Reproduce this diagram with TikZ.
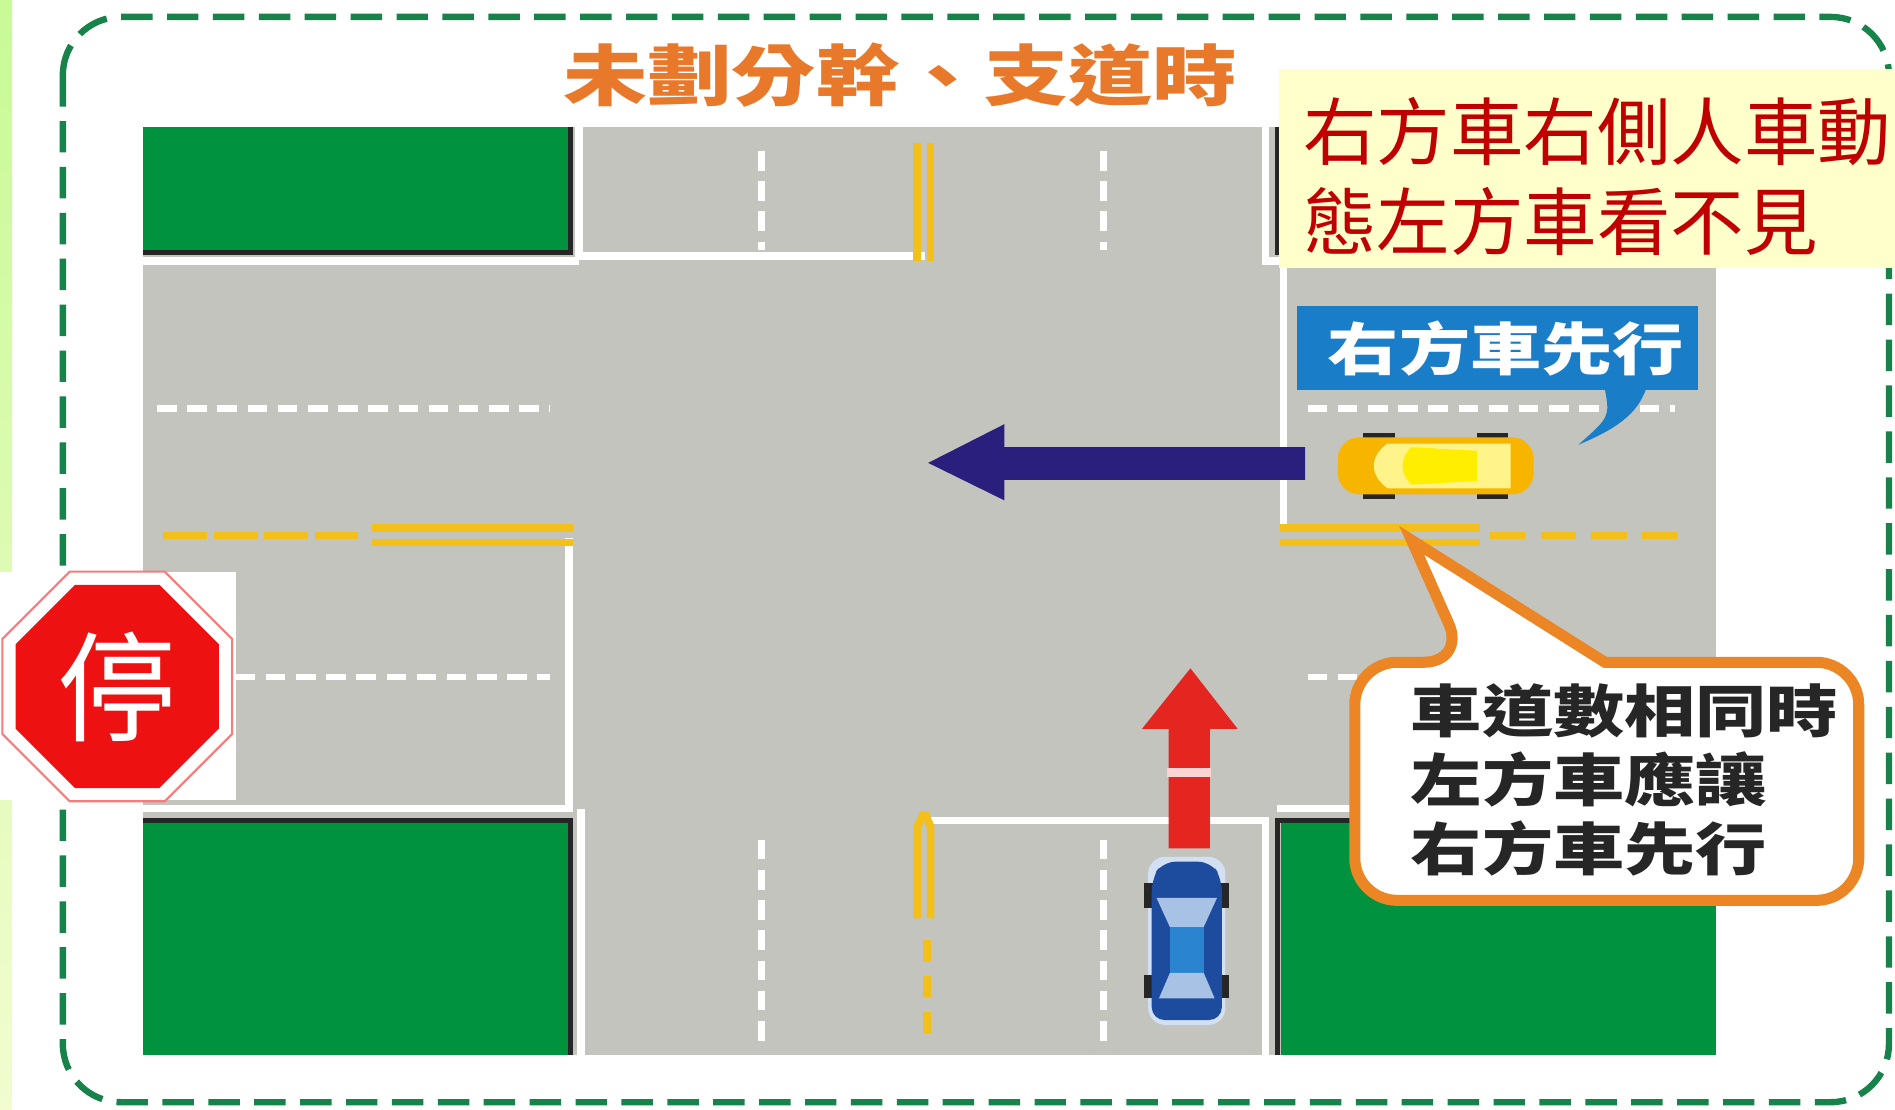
\documentclass[tikz,border=0pt]{standalone}
\usepackage{fontspec}
\newfontfamily\cjk{Noto Sans CJK TC}
\usetikzlibrary{positioning,shapes.geometric}

\definecolor{road}{HTML}{C3C4BE}
\definecolor{lot}{HTML}{00923F}
\definecolor{frame}{HTML}{17834A}
\definecolor{titleorange}{HTML}{E8792B}
\definecolor{notebg}{HTML}{FFFFCC}
\definecolor{notered}{HTML}{C00000}
\definecolor{signblue}{HTML}{1A7DC8}
\definecolor{navy}{HTML}{2A1F7C}
\definecolor{arrowred}{HTML}{E52520}
\definecolor{bubbleorange}{HTML}{EC8524}
\definecolor{lineyellow}{HTML}{F2C018}
\definecolor{stopred}{HTML}{EE1111}
\definecolor{carblue}{HTML}{1D4C9E}
\definecolor{roofblue}{HTML}{2B84CF}
\definecolor{glassblue}{HTML}{A8C2E6}
\definecolor{caryellow}{HTML}{F7B500}
\definecolor{roofyellow}{HTML}{FFEE00}
\definecolor{glassyellow}{HTML}{FFF38A}
\definecolor{stripgreen}{HTML}{C8FA96}
\definecolor{stripyellow}{HTML}{F2FCCF}

\newcommand{\wide}[1]{\scalebox{1.25}[1]{#1}}

\begin{document}
\begin{tikzpicture}[x=0.01cm,y=-0.01cm,
  curb/.style={white,line width=1.8pt},
  edge/.style={black!85,line width=1.3pt},
  lane/.style={white,line width=1.5pt,dash pattern=on 4.6pt off 2.5pt},
  yline/.style={lineyellow,line width=1.8pt},
  octagon/.style={regular polygon,regular polygon sides=8,inner sep=0pt,outer sep=0pt},
  tyre/.style={fill=black!85}]

\useasboundingbox (0,0) rectangle (1568,918);
\fill[white] (0,0) rectangle (1568,918);
\shade[top color=stripgreen,bottom color=stripyellow] (0,0) rectangle (10,918);

\draw[frame,line width=1.5pt,dash pattern=on 7.4pt off 3.4pt,rounded corners=13.7pt] (52,14) rectangle (1563,912);

\fill[road] (118,105) rectangle (1420,873);

\fill[lot] (118,105) rectangle (470,207);
\fill[lot] (118,681) rectangle (470,873);
\fill[lot] (1060,681) rectangle (1420,873);
\fill[lot] (1060,105) rectangle (1420,207);
\draw[edge] (118,209) -- (472,209) -- (472,105);
\draw[edge] (118,679) -- (472,679) -- (472,873);
\draw[edge] (1420,679) -- (1057,679) -- (1057,873);
\draw[edge] (1420,209) -- (1057,209) -- (1057,105);

\draw[curb] (118,216) -- (479,216);
\draw[curb] (479,105) -- (479,212) -- (765,212);
\draw[curb] (1047,105) -- (1047,216) -- (1420,216);
\draw[curb] (1062,216) -- (1062,437);
\draw[curb] (471,445) -- (471,669) -- (118,669);
\draw[curb] (481,669) -- (481,873);
\draw[curb] (765,679) -- (1047,679) -- (1047,873);
\draw[curb] (1057,669) -- (1420,669);

\draw[lane] (630,125) -- (630,207);
\draw[lane] (913,125) -- (913,207);
\draw[lane] (630,695) -- (630,867);
\draw[lane] (913,695) -- (913,867);
\draw[lane] (130,338) -- (455,338);
\draw[lane] (195,560) -- (455,560);
\draw[lane] (1082,338) -- (1386,338);
\draw[lane] (1082,560) -- (1130,560);

\draw[yline] (759,118) -- (759,216);
\draw[yline] (770,118) -- (770,216);
\draw[yline] (759,760) -- (759,684) -- (765,672);
\draw[yline] (770,760) -- (770,684) -- (765,672);
\draw[yline,dash pattern=on 5pt off 3.4pt] (767,778) -- (767,862);
\draw[yline] (308,437) -- (474,437);
\draw[yline] (308,449) -- (474,449);
\draw[yline,dash pattern=on 10.3pt off 1.6pt] (135,443) -- (296,443);
\draw[yline] (1059,437) -- (1225,437);
\draw[yline] (1059,449) -- (1225,449);
\draw[yline,dash pattern=on 8.3pt off 3.6pt] (1233,443) -- (1390,443);

\fill[navy] (1080,370) -- (831,370) -- (831,351) -- (768,383) -- (831,414) -- (831,397) -- (1080,397) -- cycle;

\fill[tyre] (1128,358) rectangle (1154,366);
\fill[tyre] (1222,358) rectangle (1248,366);
\fill[tyre] (1128,405) rectangle (1154,413);
\fill[tyre] (1222,405) rectangle (1248,413);
\fill[caryellow,rounded corners=5pt] (1107,362) rectangle (1269,409);
\fill[glassyellow] (1148,367) .. controls (1133,378) and (1133,393) .. (1148,404) -- (1250,404) -- (1250,367) -- cycle;
\fill[roofyellow] (1168,370) -- (1222,373) -- (1222,398) -- (1168,401) .. controls (1158,392) and (1158,379) .. cycle;

\fill[arrowred] (1001,702) -- (1001,603) -- (1024,603) -- (985,553) -- (945,603) -- (967,603) -- (967,702) -- cycle;
\draw[white!80!arrowred,line width=2pt] (966,639) -- (1002,639);

\fill[glassblue!50,rounded corners=4pt] (950,709) rectangle (1014,848);
\fill[tyre] (947,731) rectangle (958,751);
\fill[tyre] (1006,731) rectangle (1017,751);
\fill[tyre] (947,807) rectangle (958,826);
\fill[tyre] (1006,807) rectangle (1017,826);
\fill[carblue,rounded corners=3pt] (962,713) -- (1002,713) -- (1011,727) -- (1011,844) -- (953,844) -- (953,727) -- cycle;
\fill[glassblue] (957,743) -- (1007,743) -- (996,767) -- (968,767) -- cycle;
\fill[roofblue] (968,767) rectangle (996,805);
\fill[glassblue] (968,805) -- (996,805) -- (1005,826) -- (959,826) -- cycle;

\fill[signblue] (1073,253) rectangle (1405,323);
\fill[signblue] (1328,322) .. controls (1332,345) .. (1306,368) .. controls (1345,352) and (1356,338) .. (1362,322) -- cycle;
\node[white,font=\cjk\bfseries\fontsize{13.4pt}{15pt}\selectfont] (prio) at (1246,288) {\wide{右方車先行}};

\draw[bubbleorange,fill=white,line width=2.6pt] (1400,548) [rounded corners=10pt] -- (1538,548) -- (1538,745) -- (1121,745) -- (1121,548) -- (1213,548) [sharp corners] -- (1168,447) -- (1328,548) -- cycle;
\node[anchor=west,font=\cjk\bfseries\fontsize{13.4pt}{15.1pt}\selectfont,text=black!85] (rule) at (1155,651)
  {\wide{\begin{tabular}{@{}l@{}}車道數相同時\\左方車應讓\\右方車先行\end{tabular}}};

\node[text=titleorange,font=\cjk\bfseries\fontsize{15.6pt}{18pt}\selectfont] (title) at (745,62) {\scalebox{1.27}[1]{未劃分幹、支道時}};

\fill[notebg] (1058,57) rectangle (1568,222);
\node[anchor=west,align=left,text=notered,font=\cjk\fontsize{17.3pt}{21.3pt}\selectfont] (note) at (1066,146) {右方車右側人車動\\態左方車看不見};

\fill[white] (0,473) rectangle (195,662);
\node[octagon,minimum size=58.5pt,draw=stopred!55,line width=0.5pt] (stopedge) at (97,568) {};
\node[octagon,minimum size=51.8pt,fill=stopred] (stopsign) at (97,568) {};
\node[white,font=\cjk\fontsize{28pt}{28pt}\selectfont] (stoptext) at (stopsign) {停};

\end{tikzpicture}
\end{document}
